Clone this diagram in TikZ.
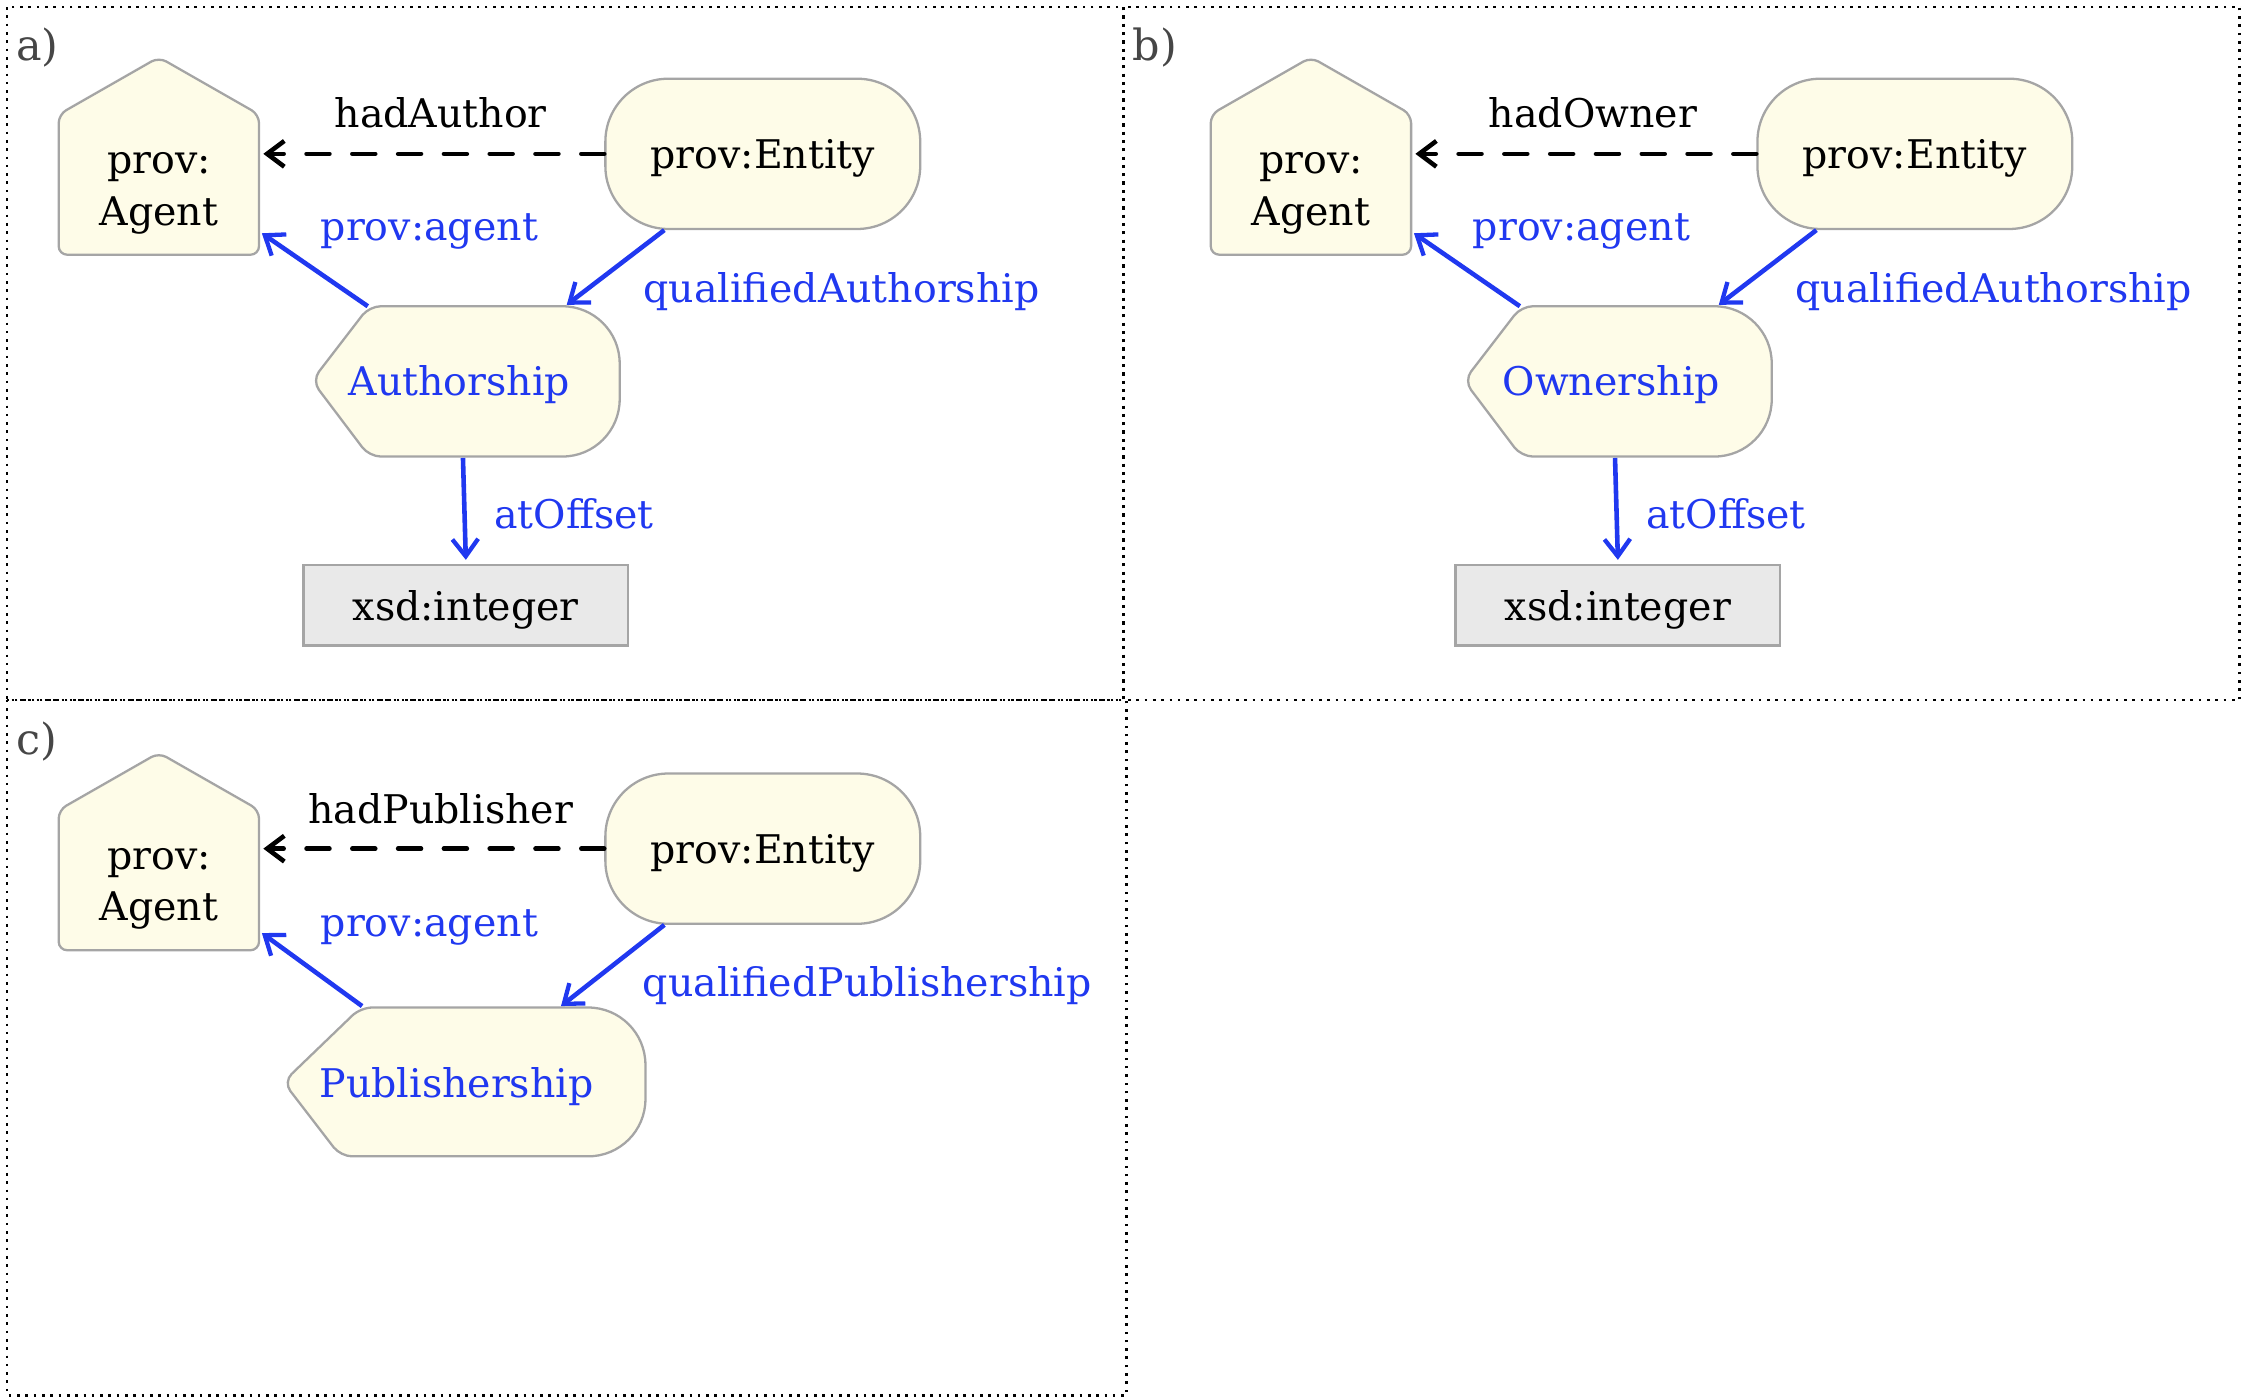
\documentclass[tikz,border=0pt]{standalone}
\usepackage{fontspec}
\setmainfont{DejaVu Serif}
\usetikzlibrary{arrows.meta,calc}
\definecolor{fillY}{RGB}{254,252,232}
\definecolor{edgeG}{RGB}{165,165,165}
\definecolor{relB}{RGB}{32,56,240}
\definecolor{boxG}{RGB}{233,233,233}
\definecolor{panelT}{RGB}{70,70,70}
\tikzset{
  x=0.5pt, y=-0.5pt,
  shp/.style={draw=edgeG, fill=fillY, line width=0.8pt},
  txt/.style={font=\fontsize{13.8pt}{18pt}\selectfont, inner sep=0pt, align=center, yshift=-1.5pt},
  hole/.style={draw=none, inner sep=0pt, outer sep=0pt},
  bluetxt/.style={txt, text=relB},
  relarrow/.style={draw=relB, line width=1.6pt, -{Straight Barb[length=6pt,width=9pt,line width=1.5pt]}},
  dasharrow/.style={draw=black, line width=1.6pt, line cap=round, dash pattern=on 8pt off 8pt, -{Straight Barb[length=6pt,width=9pt,line width=1.6pt]}},
  xsdbox/.style={draw=edgeG, fill=boxG, line width=0.8pt, minimum width=113.5pt, minimum height=28pt, inner sep=0pt},
  frame/.style={draw=black, line width=0.9pt, dotted},
  panellbl/.style={font=\fontsize{15pt}{18pt}\selectfont, text=panelT, inner sep=0pt}
}
\newcommand\agenthouse{\path[shp, rounded corners=3pt] (41,178) -- (41,80) -- (111,40) -- (181,80) -- (181,178) -- cycle;}
\begin{document}
\begin{tikzpicture}
\useasboundingbox (0,0) rectangle (1568,978);

% frames
\draw[frame] (5,5) rectangle (785,489);
\draw[frame] (785,5) rectangle (1565,489);
\draw[frame] (5,489) rectangle (787,975);

% ---------------- panel a ----------------
\node[panellbl] (la) at (26,33) {a)};
\agenthouse
\node[hole, minimum width=70pt, minimum height=49pt] (agA) at (111,129) {};
\node[txt] (agAt) at (111,132) {prov:\\Agent};
\node[shp, rounded corners=22pt, minimum width=110pt, minimum height=52.5pt] (entA) at (533,107.5) {};
\node[txt] (entAt) at (entA.center) {prov:Entity};
\path[shp] (320,214) [rounded corners=20pt] -- (433,214) -- (433,319) [rounded corners=4pt] -- (258,319) -- (218,266) -- (258,214) -- cycle;
\node[hole, minimum width=107.5pt, minimum height=52.5pt] (authA) at (325.5,266.5) {};
\node[bluetxt] (authAt) at (321,266) {Authorship};
\node[xsdbox] (xsdA) at (325.5,423) {};
\node[txt] (xsdAt) at (xsdA.center) {xsd:integer};

\draw[dasharrow] (entA.west) -- ($(entA.west -| agA.east)+(3,0)$);
\node[txt] (lhA) at (308,76) {hadAuthor};
\draw[relarrow] ($(authA.north west)+(39,0)$) -- ($(agA.south east)+(2,-15)$);
\node[bluetxt] (lpA) at (300,159) {prov:agent};
\draw[relarrow] ($(entA.south west)+(42,0)$) -- ($(authA.north east)+(-37,-1)$);
\node[bluetxt] (lqA) at (588,201) {qualifiedAuthorship};
\draw[relarrow] ($(authA.south)+(-2,1)$) -- ($(xsdA.north)+(0,-3)$);
\node[bluetxt] (loA) at (401,356) {atOffset};

% ---------------- panel b ----------------
\begin{scope}[shift={(805,0)}]
\node[panellbl] (lb) at (2,33) {b)};
\agenthouse
\node[hole, minimum width=70pt, minimum height=49pt] (agB) at (111,129) {};
\node[txt] (agBt) at (111,132) {prov:\\Agent};
\node[shp, rounded corners=22pt, minimum width=110pt, minimum height=52.5pt] (entB) at (533,107.5) {};
\node[txt] (entBt) at (entB.center) {prov:Entity};
\path[shp] (320,214) [rounded corners=20pt] -- (433,214) -- (433,319) [rounded corners=4pt] -- (258,319) -- (218,266) -- (258,214) -- cycle;
\node[hole, minimum width=107.5pt, minimum height=52.5pt] (authB) at (325.5,266.5) {};
\node[bluetxt] (authBt) at (321,266) {Ownership};
\node[xsdbox] (xsdB) at (325.5,423) {};
\node[txt] (xsdBt) at (xsdB.center) {xsd:integer};

\draw[dasharrow] (entB.west) -- ($(entB.west -| agB.east)+(3,0)$);
\node[txt] (lhB) at (308,76) {hadOwner};
\draw[relarrow] ($(authB.north west)+(39,0)$) -- ($(agB.south east)+(2,-15)$);
\node[bluetxt] (lpB) at (300,159) {prov:agent};
\draw[relarrow] ($(entB.south west)+(42,0)$) -- ($(authB.north east)+(-37,-1)$);
\node[bluetxt] (lqB) at (588,201) {qualifiedAuthorship};
\draw[relarrow] ($(authB.south)+(-2,1)$) -- ($(xsdB.north)+(0,-3)$);
\node[bluetxt] (loB) at (401,356) {atOffset};
\end{scope}

% ---------------- panel c ----------------
\begin{scope}[shift={(0,486)}]
\node[panellbl] (lc) at (26,32) {c)};
\agenthouse
\node[hole, minimum width=70pt, minimum height=49pt] (agC) at (111,129) {};
\node[txt] (agCt) at (111,132) {prov:\\Agent};
\node[shp, rounded corners=22pt, minimum width=110pt, minimum height=52.5pt] (entC) at (533,107) {};
\node[txt] (entCt) at (entC.center) {prov:Entity};
\path[shp] (320,218) [rounded corners=20pt] -- (451,218) -- (451,322) [rounded corners=4pt] -- (238,322) -- (198,270) -- (252,218) -- cycle;
\node[hole, minimum width=126.5pt, minimum height=52pt] (pubC) at (324.5,270) {};
\node[bluetxt] (pubCt) at (319,270) {Publishership};

\draw[dasharrow] (entC.west) -- ($(entC.west -| agC.east)+(3,0)$);
\node[txt] (lhC) at (308,76) {hadPublisher};
\draw[relarrow] ($(pubC.north west)+(55,-1)$) -- ($(agC.south east)+(2,-12)$);
\node[bluetxt] (lpC) at (300,159) {prov:agent};
\draw[relarrow] ($(entC.south west)+(42,0)$) -- ($(pubC.north east)+(-59,-1)$);
\node[bluetxt] (lqC) at (606,200) {qualifiedPublishership};
\end{scope}
\end{tikzpicture}
\end{document}
